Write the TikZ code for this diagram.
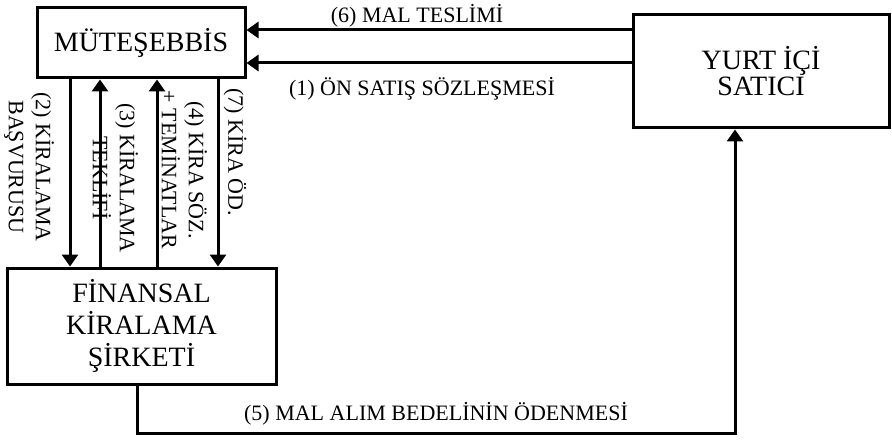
\documentclass[tikz,border=0pt]{standalone}
\usepackage{fontspec}
\setmainfont{Liberation Serif}
\usetikzlibrary{arrows.meta,positioning}

\begin{document}
\begin{tikzpicture}[x=1pt,y=-1pt,
  box/.style={draw,line width=3pt,align=center,font=\fontsize{28}{32}\selectfont},
  arr/.style={line width=3pt,-{Triangle[length=12pt,width=16pt]}},
  lbl/.style={font=\fontsize{22}{27}\selectfont,align=center,inner sep=1pt}]
  \useasboundingbox (0,0) rectangle (892,441);

  \node[box,minimum width=208pt,minimum height=70pt] (Mut) at (141,43) {MÜTEŞEBBİS};
  \node[box,minimum width=256pt,minimum height=113pt,font=\fontsize{28}{26}\selectfont] (Sat) at (761,71.5) {YURT İÇİ\\SATICI};
  \node[box,minimum width=269pt,minimum height=116pt] (Fin) at (141.5,326) {FİNANSAL\\KİRALAMA\\ŞİRKETİ};

  % satici -> muteşebbis
  \draw[arr] (Sat.west |- 0,30) -- (Mut.east |- 0,30) node[lbl,midway,above,xshift=-22pt] (L6) {(6) MAL TESLİMİ};
  \draw[arr] (Sat.west |- 0,63) -- (Mut.east |- 0,63) node[lbl,midway,below=12pt,xshift=-17pt] (L1) {(1) ÖN SATIŞ SÖZLEŞMESİ};

  % muteşebbis <-> finansal kiralama
  \draw[arr] (Mut.south -| 70,0) -- (Fin.north -| 70,0);
  \draw[arr] (Fin.north -| 100,0) -- (Mut.south -| 100,0);
  \draw[arr] (Fin.north -| 157,0) -- (Mut.south -| 157,0);
  \draw[arr] (Mut.south -| 218,0) -- (Fin.north -| 218,0);

  \node[lbl,rotate=-90] (L2) at (29,167) {(2) KİRALAMA\\BAŞVURUSU};
  \node[lbl,rotate=-90] (L3) at (115.5,178) {(3) KİRALAMA\\TEKLİFİ};
  \node[lbl,rotate=-90] (L4) at (184.5,170) {(4) KİRA SÖZ.\\+ TEMİNATLAR};
  \node[lbl,rotate=-90] (L7) at (235,152) {(7) KİRA ÖD.};

  % finansal kiralama -> satici
  \draw[arr] (Fin.south -| 137,0) -- (137,433) -- (735,433) node[lbl,midway,above=5pt] (L5) {(5) MAL ALIM BEDELİNİN ÖDENMESİ} -- (Sat.south -| 735,0);
\end{tikzpicture}
\end{document}
